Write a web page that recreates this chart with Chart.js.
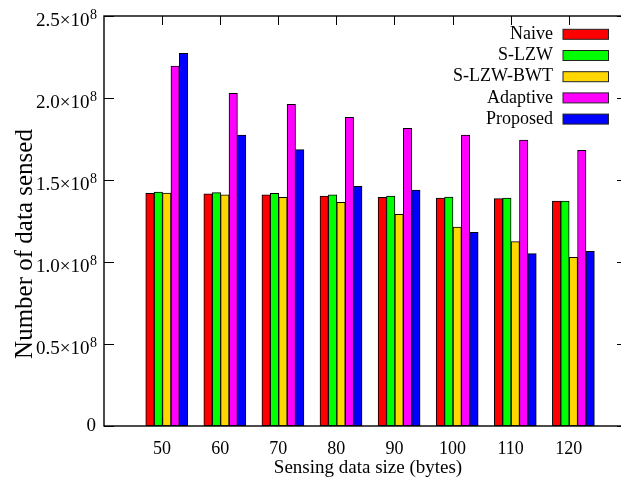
<!DOCTYPE html>
<html><head><meta charset="utf-8">
<script src="https://cdn.jsdelivr.net/npm/chart.js@4/dist/chart.umd.min.js"></script>
<style>
html,body{margin:0;padding:0;overflow:hidden;background:#fff;width:621px;height:484px}
#wrap{width:621px;height:484px;position:relative}
</style>
</head><body><div id="wrap"><canvas id="c" width="621" height="484"></canvas></div>
<script>
const categories = ['50','60','70','80','90','100','110','120'];
const seriesNames = ['Naive','S-LZW','S-LZW-BWT','Adaptive','Proposed'];
const naive    = [1.419e8, 1.415e8, 1.410e8, 1.402e8, 1.394e8, 1.390e8, 1.386e8, 1.372e8];
const sLzw     = [1.427e8, 1.423e8, 1.419e8, 1.410e8, 1.402e8, 1.396e8, 1.390e8, 1.372e8];
const sLzwBwt  = [1.421e8, 1.409e8, 1.394e8, 1.364e8, 1.291e8, 1.213e8, 1.124e8, 1.029e8];
const adaptive = [2.195e8, 2.029e8, 1.961e8, 1.882e8, 1.815e8, 1.774e8, 1.744e8, 1.681e8];
const proposed = [2.272e8, 1.774e8, 1.685e8, 1.461e8, 1.439e8, 1.181e8, 1.051e8, 1.065e8];
const yTickValues    = [0, 0.5e8, 1.0e8, 1.5e8, 2.0e8, 2.5e8];
const yTickLabels    = ['0', '0.5×10', '1.0×10', '1.5×10', '2.0×10', '2.5×10'];
const yTickExponents = ['', '8', '8', '8', '8', '8'];
const xTitle = 'Sensing data size (bytes)';
const yTitle = 'Number of data sensed';

const colors = ['#ff0000', '#00ff00', '#ffd700', '#ff00ff', '#0000ff'];
const seriesValues = [naive, sLzw, sLzwBwt, adaptive, proposed];
const FONT = "'Liberation Serif', 'Times New Roman', serif";
const GROUP_SHIFT = 0.08;
const X_MIN = -1, X_MAX = 7.9;      // plot frame continues just past the canvas edge
const FRAME_OVERHANG = 6;           // px of frame beyond the right canvas edge

const datasets = seriesValues.map((vals, k) => ({
  label: seriesNames[k],
  data: vals.map((v, i) => ({ x: i + GROUP_SHIFT, y: v })),
  backgroundColor: colors[k],
  borderColor: '#000',
  borderWidth: 1,
  borderSkipped: false,
  barThickness: 8.4
}));

const framePlugin = {
  id: 'frame',
  beforeDatasetsDraw(chart) {
    const { ctx, chartArea: a, scales: { x, y } } = chart;
    const right = a.right + FRAME_OVERHANG;
    ctx.save();
    ctx.strokeStyle = '#000';
    ctx.lineWidth = 1;
    ctx.beginPath();
    yTickValues.forEach(v => {
      const py = Math.round(y.getPixelForValue(v)) + 0.5;
      ctx.moveTo(a.left, py); ctx.lineTo(a.left + 10, py);
      ctx.moveTo(right, py); ctx.lineTo(right - 10, py);
    });
    categories.forEach((c, i) => {
      const px = Math.round(x.getPixelForValue(i)) + 0.5;
      ctx.moveTo(px, a.bottom); ctx.lineTo(px, a.bottom - 9);
      ctx.moveTo(px, a.top); ctx.lineTo(px, a.top + 9);
    });
    ctx.stroke();
    ctx.restore();
  },
  afterDatasetsDraw(chart) {
    const { ctx, chartArea: a, scales: { x, y } } = chart;
    const right = a.right + FRAME_OVERHANG;
    ctx.save();
    ctx.strokeStyle = '#000';
    ctx.lineWidth = 1.4;
    ctx.strokeRect(a.left, a.top, right - a.left, a.bottom - a.top);
    ctx.fillStyle = '#000';
    yTickValues.forEach((v, i) => {
      const py = y.getPixelForValue(v);
      const exp = yTickExponents[i];
      const rightX = a.left - 7;
      ctx.textAlign = 'right'; ctx.textBaseline = 'middle';
      if (!exp) {
        ctx.font = '19px ' + FONT;
        ctx.fillText(yTickLabels[i], rightX - 1, py);
      } else {
        ctx.font = '14px ' + FONT;
        const ew = ctx.measureText(exp).width;
        ctx.fillText(exp, rightX, py - 1);
        ctx.font = '19px ' + FONT;
        ctx.fillText(yTickLabels[i], rightX - ew - 0.5, py + 5);
      }
    });
    ctx.textAlign = 'center'; ctx.textBaseline = 'alphabetic';
    ctx.font = '19px ' + FONT;
    ctx.fillText(xTitle, 368, 473);
    ctx.save();
    ctx.translate(32, 244);
    ctx.rotate(-Math.PI / 2);
    ctx.font = '25px ' + FONT;
    ctx.fillText(yTitle, 0, 0);
    ctx.restore();
    chart.data.datasets.forEach((ds, k) => {
      const cy = a.top + 18.3 + 21.2 * k;
      ctx.font = '18px ' + FONT;
      ctx.textAlign = 'right'; ctx.textBaseline = 'middle';
      ctx.fillStyle = '#000';
      ctx.fillText(ds.label, 553, cy);
      ctx.fillStyle = ds.backgroundColor;
      ctx.fillRect(563, cy - 5, 45.5, 10);
      ctx.strokeStyle = '#222';
      ctx.lineWidth = 1;
      ctx.strokeRect(563, cy - 5, 45.5, 10);
    });
    ctx.restore();
  }
};

new Chart(document.getElementById('c'), {
  type: 'bar',
  data: { datasets },
  options: {
    responsive: false,
    animation: false,
    layout: { padding: { left: 0, top: 16, right: 0, bottom: 0 } },
    plugins: { legend: { display: false }, tooltip: { enabled: false } },
    scales: {
      x: {
        type: 'linear', min: X_MIN, max: X_MAX, offset: false,
        grid: { display: false }, border: { display: false },
        ticks: {
          stepSize: 1, autoSkip: false, maxRotation: 0, minRotation: 0, padding: 4,
          color: '#000', font: { family: FONT, size: 18 },
          callback: (v) => (Number.isInteger(v) && categories[v] !== undefined ? categories[v] : '')
        },
        afterFit: (s) => { s.height = 58; s.paddingLeft = 0; s.paddingRight = 0; }
      },
      y: {
        min: 0, max: 2.5e8,
        grid: { display: false }, border: { display: false },
        ticks: { display: false, stepSize: 0.5e8 },
        afterFit: (s) => { s.width = 104; }
      }
    }
  },
  plugins: [framePlugin]
});
</script>
</body></html>
